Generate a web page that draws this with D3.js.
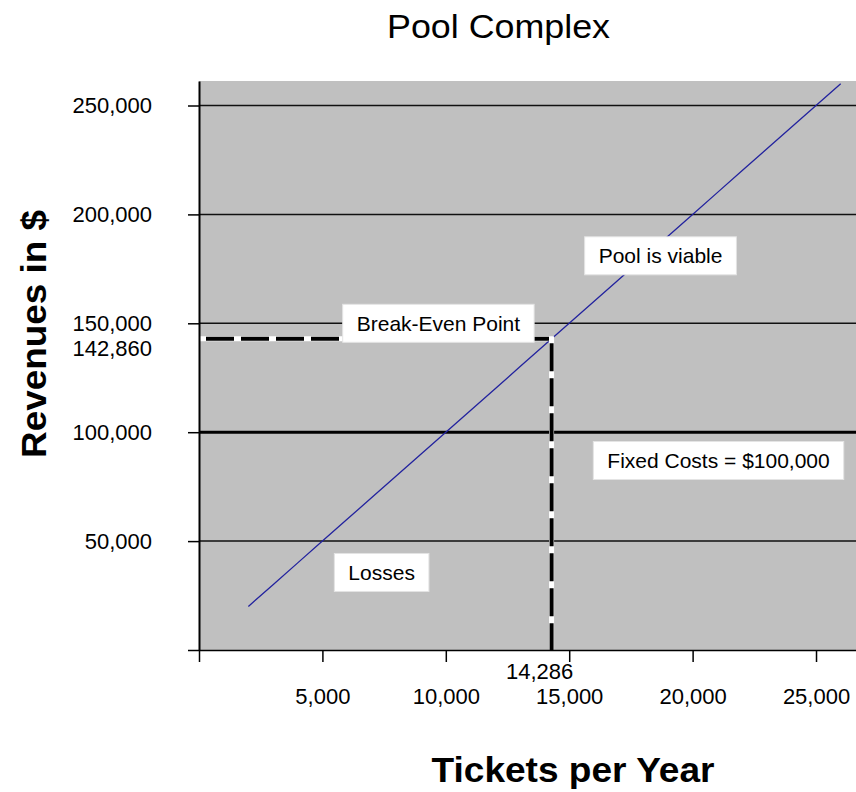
<!DOCTYPE html>
<html>
<head>
<meta charset="utf-8">
<script src="https://cdn.jsdelivr.net/npm/d3@7/dist/d3.min.js"></script>
<style>
  html, body { margin: 0; padding: 0; background: #ffffff; }
  svg { display: block; }
  text { font-family: "Liberation Sans", Arial, sans-serif; fill: #000; }
</style>
</head>
<body>
<svg id="chart" width="856" height="792"></svg>
<script>
// Revenue line: tickets sold per year and the revenue they bring in
const tickets  = [2000, 3000, 4000, 5000, 6000, 7000, 8000, 9000, 10000, 11000, 12000, 13000, 14000,
                  15000, 16000, 17000, 18000, 19000, 20000, 21000, 22000, 23000, 24000, 25000, 26000];
const revenues = [20000, 30000, 40000, 50000, 60000, 70000, 80000, 90000, 100000, 110000, 120000, 130000, 140000,
                  150000, 160000, 170000, 180000, 190000, 200000, 210000, 220000, 230000, 240000, 250000, 260000];

// Axis ticks
const xTickValues = [0, 5000, 10000, 15000, 20000, 25000];
const xTickLabels = ["", "5,000", "10,000", "15,000", "20,000", "25,000"];
const yTickValues = [0, 50000, 100000, 150000, 200000, 250000];
const yTickLabels = ["", "50,000", "100,000", "150,000", "200,000", "250,000"];

// Fixed costs and break-even point
const fixedCosts = 100000;
const breakEvenTickets = 14286;
const breakEvenRevenue = 142860;
const breakEvenTicketLabel = "14,286";
const breakEvenRevenueLabel = "142,860";

// Text notes placed in data space (centre of each note)
const noteTexts    = ["Break-Even Point", "Pool is viable", "Losses", "Fixed Costs = $100,000"];
const noteTickets  = [9700, 18700, 7400, 21050];
const noteRevenues = [150000, 181000, 35600, 87000];

const svg = d3.select("#chart");
const plotLeft = 199, plotRight = 856, plotTop = 81, plotBottom = 650;
const labelFont = "22px";

const x = d3.scaleLinear().domain([0, 26620]).range([plotLeft, plotRight]);
const y = d3.scaleLinear().domain([0, 261250]).range([plotBottom, plotTop]);

// Plot background
svg.append("rect")
  .attr("x", plotLeft).attr("y", plotTop)
  .attr("width", plotRight - plotLeft).attr("height", plotBottom - plotTop)
  .attr("fill", "#c0c0c0");

// Horizontal gridlines
svg.append("g").selectAll("line")
  .data(yTickValues.filter(v => v > 0 && v !== fixedCosts))
  .join("line")
  .attr("x1", plotLeft).attr("x2", plotRight)
  .attr("y1", d => y(d)).attr("y2", d => y(d))
  .attr("stroke", "#111").attr("stroke-width", 1.5);

// Fixed cost line
svg.append("line")
  .attr("x1", plotLeft).attr("x2", plotRight)
  .attr("y1", y(fixedCosts)).attr("y2", y(fixedCosts))
  .attr("stroke", "#000").attr("stroke-width", 3);

// Revenue line
const pts = tickets.map((t, i) => [t, revenues[i]]);
svg.append("path")
  .datum(pts)
  .attr("fill", "none")
  .attr("stroke", "#22229e")
  .attr("stroke-width", 1.3)
  .attr("d", d3.line().x(d => x(d[0])).y(d => y(d[1])));

// Break-even guides: black dashes with white gaps
const guide = [[0, breakEvenRevenue], [breakEvenTickets, breakEvenRevenue], [breakEvenTickets, 0]];
const guidePath = d3.line().x(d => x(d[0])).y(d => y(d[1]));
svg.append("path").datum(guide)
  .attr("fill", "none").attr("stroke", "#ffffff").attr("stroke-width", 5)
  .attr("d", guidePath);
svg.append("path").datum(guide)
  .attr("fill", "none").attr("stroke", "#000").attr("stroke-width", 4)
  .attr("stroke-dasharray", "28,7")
  .attr("stroke-dashoffset", "-7")
  .attr("d", guidePath);

// Axes
const yAxis = d3.axisLeft(y)
  .tickValues(yTickValues)
  .tickFormat((d, i) => yTickLabels[i])
  .tickSize(11).tickSizeOuter(0).tickPadding(36);
const gy = svg.append("g").attr("transform", `translate(${plotLeft},0)`).call(yAxis);
gy.select(".domain").attr("stroke", "#000").attr("stroke-width", 2);
gy.selectAll(".tick line").attr("stroke", "#000").attr("stroke-width", 1.5);
gy.selectAll(".tick text")
  .style("font-family", '"Liberation Sans", Arial, sans-serif')
  .style("font-size", labelFont).attr("fill", "#000");

const xAxis = d3.axisBottom(x)
  .tickValues(xTickValues)
  .tickFormat((d, i) => xTickLabels[i])
  .tickSize(12).tickSizeOuter(0).tickPadding(26);
const gx = svg.append("g").attr("transform", `translate(0,${plotBottom})`).call(xAxis);
gx.select(".domain").attr("stroke", "#000").attr("stroke-width", 1.5);
gx.selectAll(".tick line").attr("stroke", "#000").attr("stroke-width", 1.5);
gx.selectAll(".tick text")
  .style("font-family", '"Liberation Sans", Arial, sans-serif')
  .style("font-size", labelFont).attr("fill", "#000");

// Break-even axis labels
svg.append("text")
  .attr("x", plotLeft - 47).attr("y", y(breakEvenRevenue) + 17)
  .attr("text-anchor", "end")
  .style("font-size", labelFont)
  .text(breakEvenRevenueLabel);
svg.append("text")
  .attr("x", x(breakEvenTickets) - 12).attr("y", plotBottom + 29)
  .attr("text-anchor", "middle")
  .style("font-size", labelFont)
  .text(breakEvenTicketLabel);

// Notes in white boxes
const notes = svg.append("g").selectAll("g")
  .data(noteTexts.map((t, i) => ({ text: t, tx: noteTickets[i], rv: noteRevenues[i] })))
  .join("g")
  .attr("transform", d => `translate(${x(d.tx)},${y(d.rv)})`);
notes.append("rect")
  .attr("fill", "#ffffff").attr("stroke", "#e4e4e4").attr("stroke-width", 1);
notes.append("text")
  .attr("text-anchor", "middle")
  .attr("y", 7.5)
  .style("font-size", "21px")
  .text(d => d.text);
notes.each(function() {
  const g = d3.select(this);
  const w = g.select("text").node().getComputedTextLength();
  g.select("rect")
    .attr("x", -w / 2 - 14).attr("y", -19)
    .attr("width", w + 28).attr("height", 38);
});

// Titles
svg.append("text")
  .attr("x", 498.5).attr("y", 38)
  .attr("text-anchor", "middle")
  .attr("textLength", 223).attr("lengthAdjust", "spacingAndGlyphs")
  .style("font-size", "33px")
  .text("Pool Complex");

svg.append("text")
  .attr("x", 573).attr("y", 782)
  .attr("text-anchor", "middle")
  .attr("textLength", 283).attr("lengthAdjust", "spacingAndGlyphs")
  .style("font-size", "35px").style("font-weight", "bold")
  .text("Tickets per Year");

svg.append("text")
  .attr("transform", "translate(46,334) rotate(-90)")
  .attr("text-anchor", "middle")
  .attr("textLength", 248).attr("lengthAdjust", "spacingAndGlyphs")
  .style("font-size", "35px").style("font-weight", "bold")
  .text("Revenues in $");
</script>
</body>
</html>
